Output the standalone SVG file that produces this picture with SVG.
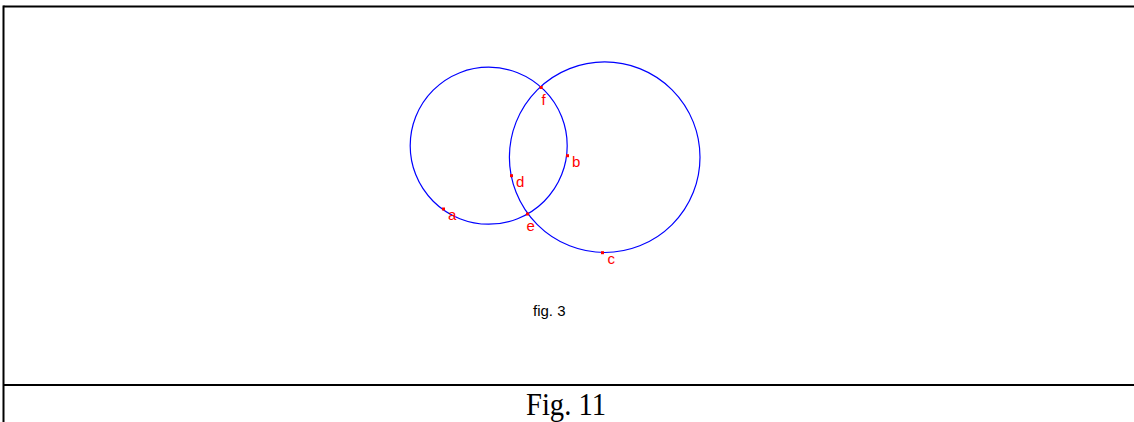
<svg xmlns="http://www.w3.org/2000/svg" width="1134" height="422" viewBox="0 0 1134 422">
<style>
.frame{stroke:#000;stroke-width:2;fill:none}
.circ{stroke:#0000ff;stroke-width:1.2;fill:none}
.pt{fill:#ff0000}
.lbl{font-family:"Liberation Sans",Arial,sans-serif;font-size:15px;fill:#ff0000}
.cap{font-family:"Liberation Sans",Arial,sans-serif;font-size:15px;fill:#000}
.title{font-family:"Liberation Serif","Times New Roman",serif;font-size:31px;fill:#000}
</style>
<rect width="1134" height="422" fill="#fff"/>
<g id="frame">
<line class="frame" x1="3.5" y1="6.5" x2="1134" y2="6.5"/>
<line class="frame" x1="3.5" y1="5.5" x2="3.5" y2="422"/>
<line class="frame" x1="3.5" y1="385" x2="1134" y2="385"/>
</g>
<g id="circle-left"><circle class="circ" cx="488.7" cy="145.7" r="78.5"/></g>
<g id="circle-right"><circle class="circ" cx="604.7" cy="157.2" r="95.3"/></g>
<g id="point-a"><rect class="pt" x="442" y="207.5" width="3" height="3"/><text class="lbl" x="448" y="219.5">a</text></g>
<g id="point-b"><rect class="pt" x="566" y="154.2" width="3" height="3"/><text class="lbl" x="572" y="166.5">b</text></g>
<g id="point-c"><rect class="pt" x="601" y="251.2" width="3" height="3"/><text class="lbl" x="607.5" y="264">c</text></g>
<g id="point-d"><rect class="pt" x="510" y="174.2" width="3" height="3"/><text class="lbl" x="516" y="186.5">d</text></g>
<g id="point-e"><rect class="pt" x="526" y="212.5" width="3" height="3"/><text class="lbl" x="526.5" y="231">e</text></g>
<g id="point-f"><rect class="pt" x="539.7" y="86" width="3" height="3"/><text class="lbl" x="541.5" y="104.5">f</text></g>
<g id="caption-fig3"><text class="cap" x="533" y="315.5">fig. 3</text></g>
<g id="title"><text class="title" x="526" y="415" textLength="80" lengthAdjust="spacingAndGlyphs">Fig. 11</text></g>
</svg>
